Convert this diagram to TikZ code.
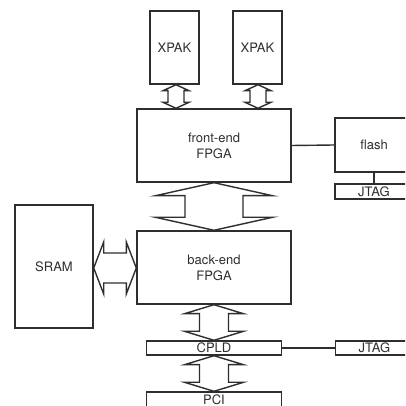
\documentclass[tikz,border=0pt]{standalone}
\usepackage{fontspec}
\setmainfont{TeX Gyre Heros}
\usetikzlibrary{positioning,calc}
\definecolor{ink}{HTML}{2E2E2E}

% wide two-headed bus arrows: start, end, shaft half width, head half width, head length
\newcommand{\vbus}[5]{%
\draw[bus] let \p1=(#1), \p2=(#2) in
    (\x1,\y1) -- ++(#4,-#5) -- ++(#3-#4,0) -- (\x1+#3,\y2+#5) -- ++(#4-#3,0) --
    (\x1,\y2) -- ++(-#4,#5) -- ++(#4-#3,0) -- (\x1-#3,\y1-#5) -- ++(#3-#4,0) -- cycle;}
\newcommand{\hbus}[5]{%
\draw[bus] let \p1=(#1), \p2=(#2) in
    (\x1,\y1) -- ++(#5,#4) -- ++(0,#3-#4) -- (\x2-#5,\y1+#3) -- ++(0,#4-#3) --
    (\x2,\y1) -- ++(-#5,-#4) -- ++(0,#4-#3) -- (\x1+#5,\y1-#3) -- ++(0,#3-#4) -- cycle;}

\begin{document}
\begin{tikzpicture}[x=1pt, y=1pt,
    blk/.style={draw=ink, line width=1.4pt, text=ink, align=center, inner sep=0pt,
        font=\fontsize{13}{16}\selectfont},
    bus/.style={draw=ink, line width=1.4pt, fill=white, line join=miter},
    wire/.style={draw=ink, line width=1.4pt}]
\clip (0,0) rectangle (405,406);

% Blocks
\node[blk, minimum width=49pt, minimum height=73pt] (xpak1) at (174.5,358.5) {XPAK};
\node[blk, minimum width=49pt, minimum height=73pt] (xpak2) at (257.5,358.5) {XPAK};
\node[blk, minimum width=154pt, minimum height=73pt] (fe) at (214,260.5) {front-end\\FPGA};
\node[blk, minimum width=154pt, minimum height=73pt] (be) at (214,138.5) {back-end\\FPGA};
\node[blk, minimum width=78pt, minimum height=54pt] (flash) at (374,261) {flash};
\node[blk, minimum width=78pt, minimum height=15pt] (jtag1) at (374,214.5) {JTAG};
\node[blk, minimum width=78pt, minimum height=123pt] (sram) at (54,139.5) {SRAM};
\node[blk, minimum width=135pt, minimum height=14pt] (cpld) at (214,58) {CPLD};
\node[blk, minimum width=78pt, minimum height=14pt] (jtag2) at (374.5,58) {JTAG};
\node[blk, minimum width=135pt, minimum height=17pt] (pci) at (214,5.5) {\raisebox{2pt}{PCI}};

% Plain links
\draw[wire] (fe.east) -- (flash.west);
\draw[wire] (flash.south) -- (jtag1.north);
\draw[wire] (cpld.east) -- (jtag2.west);

% Bus arrows
\vbus{$(xpak1.south)+(1.5pt,0)$}{$(xpak1.south |- fe.north)$}{8pt}{13pt}{6pt}
\vbus{$(xpak2.south)+(0.5pt,0)$}{$(xpak2.south |- fe.north)$}{8pt}{13pt}{6pt}
\vbus{fe.south}{be.north}{29pt}{58.5pt}{13pt}
\vbus{be.south}{cpld.north}{14.5pt}{29.5pt}{9pt}
\vbus{cpld.south}{pci.north}{14.5pt}{29.5pt}{9pt}
\hbus{$(sram.east)+(0,-1.5pt)$}{be.west}{15pt}{26pt}{10pt}

\end{tikzpicture}
\end{document}
